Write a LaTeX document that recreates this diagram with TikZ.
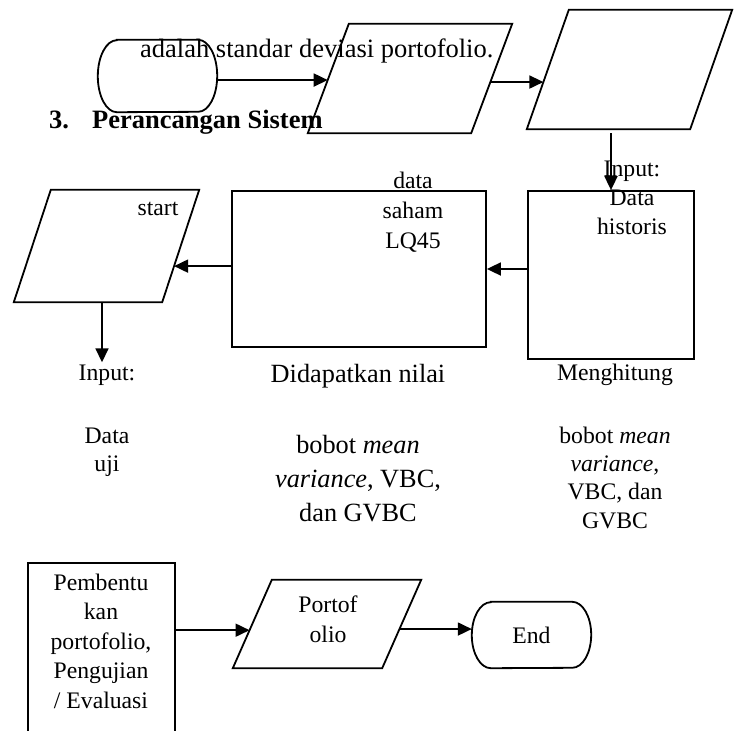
\documentclass[tikz,border=0pt]{standalone}
\usepackage{fontspec}
\setmainfont{Liberation Serif}
\usetikzlibrary{arrows.meta,calc}

\newcommand\fsmall{\fontsize{23.7}{29}\selectfont}
\newcommand\fbig{\fontsize{26.3}{34}\selectfont}
\newcommand\fhead{\fontsize{26.5}{32}\selectfont}

\tikzset{
  lw/.style={line width=1.8pt},
  frame/.style={rectangle, inner sep=0pt},
  box/.style={rectangle, draw, lw, inner sep=0pt},
  arr/.style={lw, -{Triangle[length=14pt,width=13pt]}},
  txt/.style={inner sep=0pt, align=center, anchor=base, font=\fsmall},
}

% terminator outline around an invisible frame node: name, x radius, y radius
\newcommand\drawterm[3]{%
  \draw[lw] ([xshift=#2]#1.north west) -- ([xshift=-#2]#1.north east)
    arc[start angle=90, end angle=-90, x radius=#2, y radius=#3]
    -- ([xshift=#2]#1.south west)
    arc[start angle=270, end angle=90, x radius=#2, y radius=#3] -- cycle;}
% parallelogram outline around an invisible frame node: name, slant offset
\newcommand\drawpara[2]{%
  \draw[lw] (#1.south west) -- ([xshift=#2]#1.north west) -- (#1.north east)
    -- ([xshift=-#2]#1.south east) -- cycle;}

\begin{document}
\begin{tikzpicture}[x=1pt,y=-1pt]
\useasboundingbox (0,0) rectangle (740,731);
\clip (0,0) rectangle (740,731);

% terminators
\node[frame, minimum width=119pt, minimum height=72pt] (t1) at (157.5,76) {};
\drawterm{t1}{19pt}{36pt}
\node[frame, minimum width=119pt, minimum height=66pt, font=\fsmall] (t2) at (531.5,635) {End};
\drawterm{t2}{19pt}{33pt}

% parallelograms
\node[frame, minimum width=204pt, minimum height=109pt] (p1) at (410,78.5) {};
\drawpara{p1}{41pt}
\node[frame, minimum width=205pt, minimum height=119pt] (p2) at (629.5,69.5) {};
\drawpara{p2}{42pt}
\node[frame, minimum width=185pt, minimum height=112pt] (p3) at (106.5,246) {};
\drawpara{p3}{37pt}
\node[frame, minimum width=188pt, minimum height=88pt] (p4) at (327,624) {};
\drawpara{p4}{39pt}

% rectangles
\node[box, minimum width=166pt, minimum height=168pt] (r1) at (611,275) {};
\node[box, minimum width=254pt, minimum height=156pt] (r2) at (359,269) {};
\node[box, minimum width=147pt, minimum height=200pt, anchor=north] (r4) at (101.5,562) {};

% texts (multi-line nodes: base = baseline of the last line)
\node[txt, font=\fhead, anchor=base west] (tadalah) at (140,57) {adalah standar deviasi portofolio.};
\node[txt, font=\fhead\bfseries, anchor=base west] (tnum) at (49,128) {3.};
\node[txt, font=\fhead\bfseries, anchor=base west] (thead) at (92,128) {Perancangan Sistem};
\node[txt] (tin2) at (632,234) {Input:\\Data\\historis};
\node[txt, font=\fontsize{23.7}{30}\selectfont] (tdata) at (413,248) {data\\saham\\LQ45};
\node[txt] (tstart) at (158,215) {start};
\node[txt, inner sep=2pt] (in1) at (107,380) {Input:};
\node[txt, font=\fontsize{23.7}{28}\selectfont] (tuji) at (107,471) {Data\\uji};
\node[txt, font=\fbig] (tdidapat) at (358,382) {Didapatkan nilai};
\node[txt, font=\fontsize{26.3}{34}\selectfont] (tbobot1) at (358,521) {bobot \textit{mean}\\\textit{variance}, VBC,\\dan GVBC};
\node[txt] (tmeng) at (615,380) {Menghitung};
\node[txt, font=\fontsize{23.7}{28.3}\selectfont] (tbobot2) at (615,528) {bobot \textit{mean}\\\textit{variance},\\VBC, dan\\GVBC};
\node[txt, font=\fontsize{23.7}{29.5}\selectfont] (tpemb) at (101,708) {Pembentu\\kan\\portofolio,\\Pengujian\\/ Evaluasi};
\node[txt, font=\fontsize{23.7}{30}\selectfont] (tport) at (328,642) {Portof\\olio};

% connectors
\coordinate (a1) at ($(p1.south west)!0.486!([xshift=41pt]p1.north west)$);
\draw[arr] (t1.east |- a1) -- (a1);
\coordinate (b1) at ($([xshift=-41pt]p1.south east)!0.468!(p1.north east)$);
\coordinate (b2) at ($(p2.south west)!0.395!([xshift=42pt]p2.north west)$);
\draw[arr] (b1) -- (b2);
\draw[arr] ([yshift=-4pt]p2.south -| r1.north) -- (r1.north);
\draw[arr] (r1.west |- r2.east) -- (r2.east);
\coordinate (c1) at ($([xshift=-37pt]p3.south east)!0.321!(p3.north east)$);
\draw[arr] (r2.west |- c1) -- (c1);
\draw[arr] ([xshift=-4.5pt]p3.south) -- ([xshift=-4.5pt]p3.south |- in1.north);
\coordinate (d1) at ($(p4.south west)!0.43!([xshift=39pt]p4.north west)$);
\draw[arr] (r4.east |- d1) -- (d1);
\coordinate (e1) at ($([xshift=-39pt]p4.south east)!0.443!(p4.north east)$);
\draw[arr] (e1) -- (e1 -| t2.west);
\end{tikzpicture}
\end{document}
